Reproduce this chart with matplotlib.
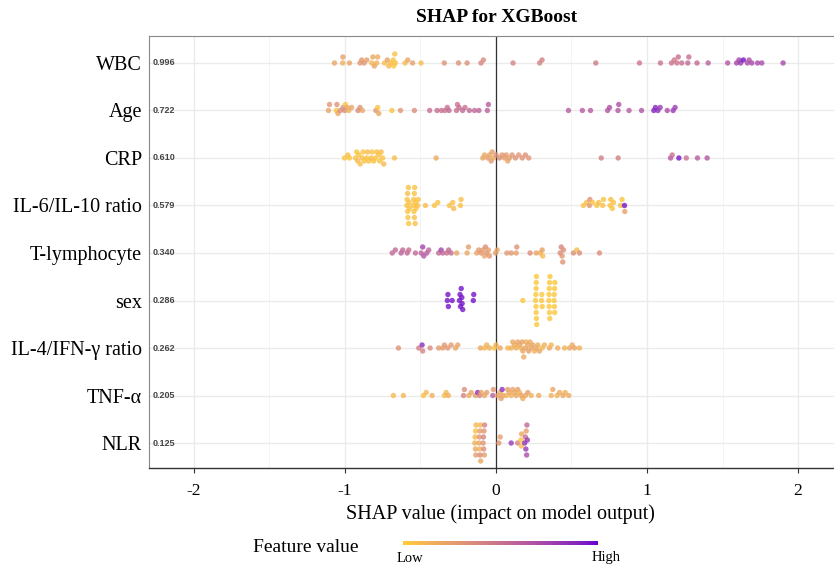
import numpy as np
import matplotlib
matplotlib.use("Agg")
import matplotlib.pyplot as plt
from matplotlib.colors import ListedColormap
from matplotlib import font_manager
from matplotlib.transforms import blended_transform_factory

# ---------------- data ----------------
features = ["WBC", "Age", "CRP", "IL-6/IL-10 ratio", "T-lymphocyte", "sex",
            "IL-4/IFN-\u03b3 ratio", "TNF-\u03b1", "NLR"]
importance = [0.996, 0.722, 0.610, 0.579, 0.340, 0.286, 0.262, 0.205, 0.125]

wbc_shap = [-1.069, -1.015, -1.013, -0.970, -0.900, -0.889, -0.873, -0.855, -0.823, -0.815,
            -0.805, -0.790, -0.783, -0.738, -0.719, -0.710, -0.697, -0.680, -0.677, -0.670,
            -0.666, -0.602, -0.584, -0.552, -0.496, -0.342, -0.248, -0.191, -0.099, -0.083,
            0.113, 0.289, 0.305, 0.661, 0.950, 1.089, 1.162, 1.180, 1.198, 1.207,
            1.230, 1.270, 1.277, 1.331, 1.405, 1.534, 1.593, 1.609, 1.620, 1.638,
            1.665, 1.676, 1.694, 1.732, 1.760, 1.901]
wbc_val = [0.22, 0.15, 0.25, 0.22, 0.30, 0.28, 0.30, 0.25, 0.12, 0.20,
           0.22, 0.15, 0.18, 0.08, 0.22, 0.10, 0.08, 0.05, 0.04, 0.06,
           0.05, 0.10, 0.22, 0.25, 0.08, 0.32, 0.33, 0.33, 0.38, 0.36,
           0.40, 0.40, 0.42, 0.45, 0.48, 0.50, 0.50, 0.45, 0.48, 0.52,
           0.50, 0.55, 0.52, 0.55, 0.60, 0.65, 0.72, 0.75, 0.78, 0.95,
           0.70, 0.65, 0.72, 0.70, 0.70, 0.72]

age_shap = [-1.109, -1.102, -1.057, -1.053, -1.046, -1.030, -1.012, -1.001, -0.997, -0.985,
            -0.974, -0.956, -0.913, -0.900, -0.884, -0.795, -0.783, -0.776, -0.689, -0.632,
            -0.540, -0.439, -0.390, -0.361, -0.338, -0.322, -0.311, -0.261, -0.255, -0.244,
            -0.221, -0.205, -0.176, -0.142, -0.113, -0.057, -0.050,
            0.480, 0.572, 0.626, 0.739, 0.752, 0.808, 0.813, 0.881, 0.964, 1.045,
            1.056, 1.072, 1.087, 1.134, 1.173, 1.186]
age_val = [0.22, 0.30, 0.05, 0.32, 0.20, 0.35, 0.35, 0.35, 0.05, 0.20,
           0.15, 0.22, 0.35, 0.33, 0.20, 0.30, 0.05, 0.20, 0.05, 0.30,
           0.35, 0.50, 0.52, 0.50, 0.48, 0.50, 0.55, 0.50, 0.48, 0.52,
           0.55, 0.50, 0.55, 0.55, 0.58, 0.60, 0.62,
           0.62, 0.62, 0.62, 0.65, 0.68, 0.65, 0.68, 0.62, 0.65, 0.90,
           0.88, 0.85, 0.80, 0.70, 0.80, 0.78]

crp_shap = [-1.003, -0.981, -0.970, -0.930, -0.922, -0.915, -0.909, -0.899, -0.886, -0.880,
            -0.871, -0.856, -0.850, -0.842, -0.826, -0.820, -0.810, -0.798, -0.789, -0.776,
            -0.770, -0.760, -0.750, -0.743, -0.672, -0.396, -0.087, -0.076, -0.054, -0.043,
            -0.032, -0.025, -0.017, 0.001, 0.023, 0.041, 0.056, 0.068, 0.078, 0.089,
            0.107, 0.129, 0.151, 0.174, 0.195, 0.217, 0.697, 0.809, 1.156, 1.167,
            1.211, 1.260, 1.334, 1.398]
crp_val = [0.05, 0.08, 0.04, 0.06, 0.05, 0.10, 0.05, 0.06, 0.08, 0.04,
           0.06, 0.05, 0.10, 0.05, 0.08, 0.05, 0.06, 0.04, 0.08, 0.06,
           0.05, 0.08, 0.05, 0.10, 0.08, 0.18, 0.22, 0.20, 0.25, 0.22,
           0.28, 0.25, 0.20, 0.30, 0.35, 0.30, 0.25, 0.28, 0.22, 0.25,
           0.30, 0.32, 0.30, 0.32, 0.33, 0.30, 0.42, 0.42, 0.65, 0.48,
           0.95, 0.50, 0.62, 0.65]

il6_shap = [-0.590, -0.588, -0.585, -0.585, -0.583, -0.580, -0.578, -0.575, -0.572,
            -0.548, -0.545, -0.543, -0.540, -0.540, -0.538, -0.535, -0.532, -0.530,
            -0.519, -0.515, -0.467, -0.407, -0.385, -0.308, -0.286, -0.280, -0.235, -0.231,
            0.579, 0.600, 0.619, 0.622, 0.640, 0.668, 0.680, 0.707, 0.712, 0.756,
            0.760, 0.770, 0.778, 0.825, 0.835, 0.851, 0.853]
il6_val = [0.05, 0.06, 0.04, 0.08, 0.05, 0.06, 0.04, 0.05, 0.07,
           0.05, 0.06, 0.04, 0.05, 0.08, 0.05, 0.06, 0.04, 0.05,
           0.06, 0.05, 0.08, 0.06, 0.05, 0.08, 0.06, 0.10, 0.06, 0.08,
           0.06, 0.08, 0.30, 0.32, 0.06, 0.05, 0.08, 0.06, 0.05, 0.05,
           0.08, 0.05, 0.06, 0.06, 0.05, 0.95, 0.25]

tly_shap = [-0.687, -0.666, -0.628, -0.617, -0.588, -0.577, -0.533, -0.495, -0.485, -0.478,
            -0.458, -0.445, -0.379, -0.363, -0.352, -0.326, -0.313, -0.297, -0.260, -0.191,
            -0.182, -0.127, -0.114, -0.098, -0.087, -0.076, -0.070, -0.061, -0.050, -0.043,
            -0.003, 0.008, 0.072, 0.101, 0.134, 0.138, 0.226, 0.266, 0.293, 0.306,
            0.310, 0.425, 0.432, 0.438, 0.442, 0.447, 0.513, 0.535, 0.553, 0.685]
tly_val = [0.55, 0.55, 0.60, 0.55, 0.55, 0.52, 0.55, 0.60, 0.75, 0.65,
           0.62, 0.58, 0.55, 0.75, 0.55, 0.50, 0.55, 0.52, 0.22, 0.20,
           0.25, 0.22, 0.28, 0.30, 0.25, 0.20, 0.35, 0.28, 0.25, 0.30,
           0.25, 0.22, 0.28, 0.30, 0.25, 0.32, 0.35, 0.22, 0.15, 0.25,
           0.10, 0.35, 0.38, 0.30, 0.32, 0.35, 0.35, 0.10, 0.35, 0.35]

sex_shap = [-0.322, -0.318, -0.315, -0.290, -0.242, -0.238, -0.235, -0.230, -0.226, -0.224,
            -0.220, -0.150, -0.147,
            0.178, 0.262, 0.264, 0.265, 0.266, 0.266, 0.267, 0.268, 0.268, 0.270,
            0.302, 0.304, 0.306, 0.350, 0.351, 0.352, 0.353, 0.354, 0.355, 0.356, 0.358,
            0.385, 0.386, 0.387, 0.388, 0.389, 0.390]
sex_val = [0.95] * 13 + [0.03] * 27

il4_shap = [-0.646, -0.511, -0.489, -0.485, -0.436, -0.379, -0.352, -0.341, -0.319, -0.297,
            -0.268, -0.253, -0.103, -0.076, -0.061, -0.043, -0.010, 0.001, 0.028, 0.078,
            0.101, 0.111, 0.123, 0.134, 0.144, 0.156, 0.167, 0.174, 0.178, 0.184,
            0.195, 0.200, 0.211, 0.217, 0.226, 0.233, 0.244, 0.255, 0.266, 0.277,
            0.288, 0.306, 0.321, 0.354, 0.366, 0.409, 0.454, 0.487, 0.505, 0.520, 0.553]
il4_val = [0.32, 0.42, 0.85, 0.40, 0.35, 0.28, 0.25, 0.28, 0.30, 0.28,
           0.22, 0.22, 0.20, 0.12, 0.15, 0.15, 0.05, 0.15, 0.20, 0.12,
           0.15, 0.20, 0.18, 0.15, 0.22, 0.20, 0.15, 0.25, 0.20, 0.18,
           0.22, 0.15, 0.20, 0.25, 0.18, 0.20, 0.22, 0.15, 0.20, 0.18,
           0.22, 0.12, 0.15, 0.20, 0.12, 0.18, 0.15, 0.20, 0.18, 0.22, 0.15]

tnf_shap = [-0.679, -0.613, -0.480, -0.462, -0.423, -0.341, -0.330, -0.315, -0.215, -0.209,
            -0.180, -0.164, -0.136, -0.121, -0.109, -0.098, -0.076, -0.061, -0.021, -0.017,
            0.012, 0.028, 0.034, 0.041, 0.045, 0.068, 0.078, 0.089, 0.101, 0.111,
            0.123, 0.134, 0.144, 0.156, 0.167, 0.178, 0.195, 0.211, 0.233, 0.283,
            0.366, 0.376, 0.405, 0.421, 0.444, 0.458, 0.482]
tnf_val = [0.10, 0.12, 0.08, 0.12, 0.15, 0.10, 0.12, 0.15, 0.40, 0.35,
           0.20, 0.22, 0.25, 0.85, 0.40, 0.22, 0.20, 0.25, 0.60, 0.30,
           0.22, 0.18, 0.25, 0.85, 0.20, 0.15, 0.25, 0.20, 0.15, 0.22,
           0.18, 0.20, 0.25, 0.15, 0.22, 0.18, 0.20, 0.25, 0.15, 0.18,
           0.15, 0.20, 0.15, 0.18, 0.20, 0.15, 0.18]

nlr_shap = [-0.140, -0.138, -0.136, -0.135, -0.133, -0.132,
            -0.112, -0.110, -0.108, -0.106, -0.105, -0.103, -0.101,
            -0.085, -0.083, -0.081, -0.079, -0.077, -0.075,
            0.019, 0.028, 0.101, 0.144, 0.165, 0.168, 0.170,
            0.190, 0.195, 0.198, 0.200, 0.203, 0.205, 0.208]
nlr_val = [0.15, 0.10, 0.20, 0.08, 0.25, 0.12,
           0.20, 0.30, 0.15, 0.25, 0.35, 0.10, 0.20,
           0.30, 0.40, 0.35, 0.30, 0.25, 0.40,
           0.30, 0.25, 0.80, 0.40, 0.05, 0.08, 0.20,
           0.85, 0.50, 0.80, 0.25, 0.70, 0.55, 0.80]

shap_rows = [wbc_shap, age_shap, crp_shap, il6_shap, tly_shap, sex_shap, il4_shap, tnf_shap, nlr_shap]
val_rows = [wbc_val, age_val, crp_val, il6_val, tly_val, sex_val, il4_val, tnf_val, nlr_val]

x_ticks = [-2, -1, 0, 1, 2]
x_tick_labels = ["-2", "-1", "0", "1", "2"]

# ---------------- colours (CIELAB ramp like ggplot) ----------------
def _hex_rgb(h):
    h = h.lstrip("#")
    return np.array([int(h[i:i + 2], 16) / 255 for i in (0, 2, 4)])

_M = np.array([[0.4124, 0.3576, 0.1805], [0.2126, 0.7152, 0.0722], [0.0193, 0.1192, 0.9505]])
_WN = np.array([0.95047, 1.0, 1.08883])

def _rgb2lab(c):
    lin = np.where(c <= 0.04045, c / 12.92, ((c + 0.055) / 1.055) ** 2.4)
    xyz = _M @ lin / _WN
    f = np.where(xyz > 0.008856, np.cbrt(xyz), 7.787 * xyz + 16 / 116)
    return np.array([116 * f[1] - 16, 500 * (f[0] - f[1]), 200 * (f[1] - f[2])])

def _lab2rgb(lab):
    fy = (lab[0] + 16) / 116
    fx = fy + lab[1] / 500
    fz = fy - lab[2] / 200
    f = np.array([fx, fy, fz])
    xyz = np.where(f ** 3 > 0.008856, f ** 3, (f - 16 / 116) / 7.787) * _WN
    lin = np.linalg.inv(_M) @ xyz
    lin = np.clip(lin, 0, 1)
    c = np.where(lin <= 0.0031308, 12.92 * lin, 1.055 * lin ** (1 / 2.4) - 0.055)
    return np.clip(c, 0, 1)

lab_lo, lab_hi = _rgb2lab(_hex_rgb("#FFCC33")), _rgb2lab(_hex_rgb("#6600CC"))
cmap = ListedColormap([_lab2rgb(lab_lo + t * (lab_hi - lab_lo)) for t in np.linspace(0, 1, 256)])

# ---------------- figure ----------------
W, H = 834, 568
fig = plt.figure(figsize=(W / 100, H / 100), dpi=100)
ax_l, ax_b, ax_w, ax_h = 149 / W, 1 - 468 / H, 685 / W, 432 / H
ax = fig.add_axes([ax_l, ax_b, ax_w, ax_h])
xlim = (-2.297, 2.238)
ylim = (0.474, 9.568)
ax.set_xlim(*xlim)
ax.set_ylim(*ylim)

serif = "Liberation Serif"
names = {f.name for f in font_manager.fontManager.ttflist}
small_font = "Liberation Sans Narrow" if "Liberation Sans Narrow" in names else "Liberation Sans"

n = len(features)
ypos = [n - i for i in range(n)]

# grid
ax.set_xticks(x_ticks)
ax.set_xticks([-1.5, -0.5, 0.5, 1.5], minor=True)
ax.set_yticks(ypos)
ax.grid(which="major", color="#EBEBEB", lw=1.0)
ax.grid(which="minor", axis="x", color="#F2F2F2", lw=0.6)
ax.set_axisbelow(True)
ax.axvline(0, color="#333333", lw=0.9, zorder=1.5)

# beeswarm-style vertical spreading of points
px_x = ax_w * W / (xlim[1] - xlim[0])
px_y = ax_h * H / (ylim[1] - ylim[0])
dmin, step = 3.4, 3.0

def swarm(xs):
    xs_px = np.asarray(xs) * px_x
    order = np.argsort(xs_px, kind="stable")
    placed_x, placed_y = [], []
    off = np.zeros(len(xs_px))
    cands = [0.0]
    for k in range(1, 30):
        cands += [k * step, -k * step]
    for i in order:
        px_ = np.array(placed_x)
        py_ = np.array(placed_y)
        for c in cands:
            if len(px_) == 0 or np.all((px_ - xs_px[i]) ** 2 + (py_ - c) ** 2 >= dmin ** 2):
                break
        off[i] = c
        placed_x.append(xs_px[i])
        placed_y.append(c)
    return off / px_y

for yp, xs, vs in zip(ypos, shap_rows, val_rows):
    offs = swarm(xs)
    ax.scatter(xs, yp + offs, c=vs, cmap=cmap, vmin=0, vmax=1, s=15, alpha=0.8,
               linewidths=0, zorder=3)

# importance values
tr = blended_transform_factory(ax.transAxes, ax.transData)
for yp, v in zip(ypos, importance):
    ax.text(0.005, yp, f"{v:.3f}", transform=tr, ha="left", va="center",
            fontsize=6.5, fontweight="bold", family=small_font, color="#444444")

ax.set_yticklabels(features, fontsize=14.5, family=serif)
ax.set_xticklabels(x_tick_labels, fontsize=12.5, family=serif)
ax.tick_params(axis="y", length=0, pad=5)
ax.tick_params(axis="x", which="major", length=3.5, width=0.8, color="#333333", pad=7)
ax.tick_params(axis="x", which="minor", length=0)
ax.set_xlabel("SHAP value (impact on model output)", fontsize=14.5, family=serif, labelpad=6)
ax.xaxis.set_label_coords((500 - 149) / 685, -(514 - 468) / 432)
ax.xaxis.label.set_va("center")

for side in ["left", "top"]:
    ax.spines[side].set_color("#888888")
    ax.spines[side].set_linewidth(0.8)
ax.spines["bottom"].set_color("#333333")
ax.spines["bottom"].set_linewidth(1.0)
ax.spines["right"].set_visible(False)

fig.text(497 / W, 1 - 18 / H, "SHAP for XGBoost", ha="center", va="center",
         fontsize=14, fontweight="bold", family=serif)

# legend
fig.text(306 / W, 1 - 547 / H, "Feature value", ha="center", va="center",
         fontsize=14, family=serif)
cax = fig.add_axes([403 / W, 1 - 545 / H, 195 / W, 4.5 / H])
cax.imshow(np.linspace(0, 1, 256)[None, :], cmap=cmap, aspect="auto")
cax.set_axis_off()
fig.text(410 / W, 1 - 558 / H, "Low", ha="center", va="center", fontsize=10.5, family=serif)
fig.text(606 / W, 1 - 558 / H, "High", ha="center", va="center", fontsize=10.5, family=serif)

fig.savefig("out.png", dpi=100)
